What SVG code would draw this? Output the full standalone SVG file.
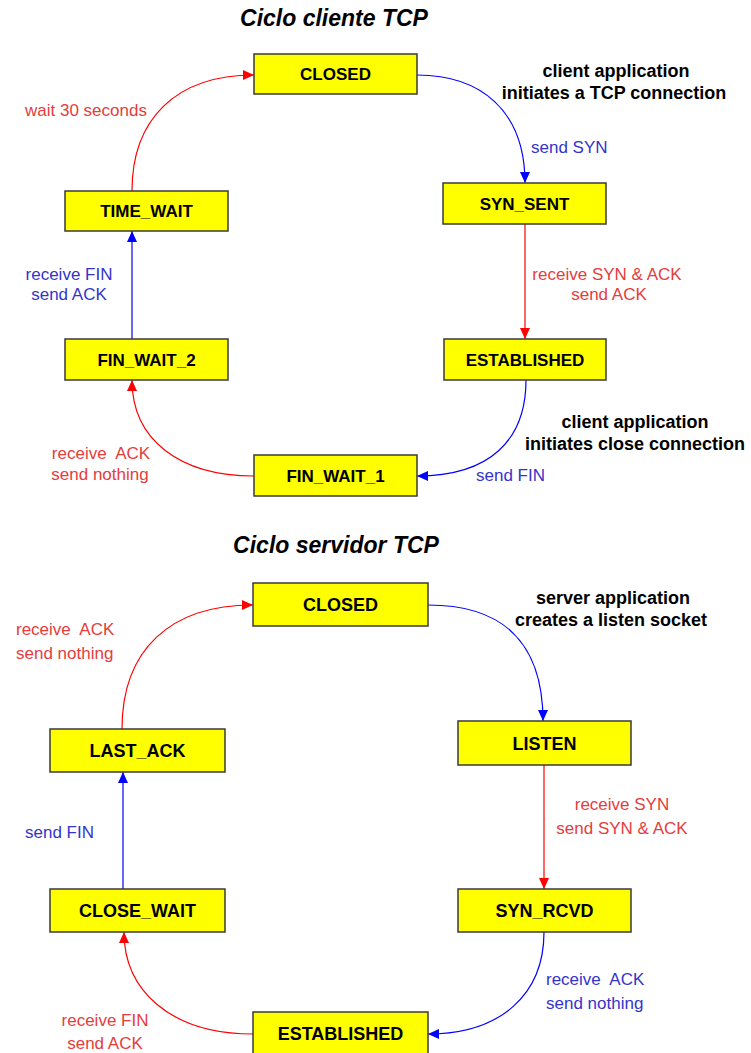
<svg xmlns="http://www.w3.org/2000/svg" width="751" height="1053" viewBox="0 0 751 1053">
<style>
.box{fill:#ffff00;stroke:#3a3a3a;stroke-width:1.5}
.nl{font-family:"Liberation Sans",Arial,sans-serif;font-weight:bold;fill:#000;text-anchor:middle}
.t1{font-size:17px}
.t2{font-size:18px}
.title{font-family:"Liberation Sans",Arial,sans-serif;font-weight:bold;font-style:italic;font-size:23px;text-anchor:middle;fill:#000}
.note{font-family:"Liberation Sans",Arial,sans-serif;font-weight:bold;font-size:18px;text-anchor:middle;fill:#000}
.lbl{font-family:"Liberation Sans",Arial,sans-serif;font-size:17px;white-space:pre}
.r{fill:#e63c3c}
.b{fill:#3434cc}
.m{text-anchor:middle}
.cr{fill:none;stroke:#ff0000;stroke-width:1.2}
.cb{fill:none;stroke:#0000ff;stroke-width:1.2}
</style>
<defs>
<marker id="ar" markerUnits="userSpaceOnUse" markerWidth="12" markerHeight="10" refX="11" refY="5" orient="auto"><path d="M0,0 L11,5 L0,10 z" fill="#ff0000"/></marker>
<marker id="ab" markerUnits="userSpaceOnUse" markerWidth="12" markerHeight="10" refX="11" refY="5" orient="auto"><path d="M0,0 L11,5 L0,10 z" fill="#0000ff"/></marker>
</defs>
<rect width="751" height="1053" fill="#ffffff"/>

<text class="title" x="334" y="26">Ciclo cliente TCP</text>
<text class="title" x="336" y="553">Ciclo servidor TCP</text>

<g id="connectors">
<path class="cr" d="M132,191 C132,120 175,75 254,75" marker-end="url(#ar)"/>
<path class="cb" d="M417,75 C480,75 525,110 525,183" marker-end="url(#ab)"/>
<path class="cb" d="M132,339 L132,231" marker-end="url(#ab)"/>
<path class="cr" d="M525,224 L525,339" marker-end="url(#ar)"/>
<path class="cb" d="M526,380 C526,440 490,476 417,476" marker-end="url(#ab)"/>
<path class="cr" d="M254,476 C180,476 132,440 132,380" marker-end="url(#ar)"/>

<path class="cr" d="M122,729 C122,650 170,605 253,605" marker-end="url(#ar)"/>
<path class="cb" d="M428,605 C500,605 543,640 543,721" marker-end="url(#ab)"/>
<path class="cb" d="M123,889 L123,772" marker-end="url(#ab)"/>
<path class="cr" d="M544,765 L544,889" marker-end="url(#ar)"/>
<path class="cb" d="M544,932 C544,995 500,1034 428,1034" marker-end="url(#ab)"/>
<path class="cr" d="M253,1034 C170,1034 124,990 124,932" marker-end="url(#ar)"/>
</g>

<g id="labels">
<text class="lbl r" x="25" y="116">wait 30 seconds</text>
<text class="lbl b" x="531" y="153">send SYN</text>
<text class="note" x="616" y="77">client application</text>
<text class="note" x="614" y="99">initiates a TCP connection</text>
<text class="lbl b m" x="69" y="280">receive FIN</text>
<text class="lbl b m" x="69" y="300">send ACK</text>
<text class="lbl r m" x="607" y="280">receive SYN &amp; ACK</text>
<text class="lbl r m" x="609" y="300">send ACK</text>
<text class="note" x="635" y="428">client application</text>
<text class="note" x="635" y="450">initiates close connection</text>
<text class="lbl b" x="476" y="481">send FIN</text>
<text class="lbl r m" x="101" y="459">receive  ACK</text>
<text class="lbl r m" x="100" y="480">send nothing</text>

<text class="note" x="613" y="604">server application</text>
<text class="note" x="611" y="626">creates a listen socket</text>
<text class="lbl r" x="16" y="635">receive  ACK</text>
<text class="lbl r" x="16" y="659">send nothing</text>
<text class="lbl b" x="25" y="838">send FIN</text>
<text class="lbl r m" x="622" y="810">receive SYN</text>
<text class="lbl r m" x="622" y="834">send SYN &amp; ACK</text>
<text class="lbl b" x="546" y="985">receive  ACK</text>
<text class="lbl b" x="546" y="1009">send nothing</text>
<text class="lbl r m" x="105" y="1026">receive FIN</text>
<text class="lbl r m" x="105" y="1049">send ACK</text>
</g>

<g id="c-closed"><rect class="box" x="254" y="54" width="163" height="40"/><text class="nl t1" x="335.5" y="80">CLOSED</text></g>
<g id="c-syn-sent"><rect class="box" x="443" y="183" width="163" height="41"/><text class="nl t1" x="524.5" y="209.5">SYN_SENT</text></g>
<g id="c-time-wait"><rect class="box" x="65" y="191" width="163" height="40"/><text class="nl t1" x="146.5" y="217">TIME_WAIT</text></g>
<g id="c-fin-wait-2"><rect class="box" x="65" y="339" width="163" height="41"/><text class="nl t1" x="146.5" y="365.5">FIN_WAIT_2</text></g>
<g id="c-established"><rect class="box" x="444" y="339" width="162" height="41"/><text class="nl t1" x="525" y="365.5">ESTABLISHED</text></g>
<g id="c-fin-wait-1"><rect class="box" x="254" y="455" width="163" height="41"/><text class="nl t1" x="335.5" y="481.5">FIN_WAIT_1</text></g>

<g id="s-closed"><rect class="box" x="253" y="583" width="175" height="43"/><text class="nl t2" x="340.5" y="611">CLOSED</text></g>
<g id="s-listen"><rect class="box" x="458" y="721" width="173" height="44"/><text class="nl t2" x="544.5" y="749.5">LISTEN</text></g>
<g id="s-last-ack"><rect class="box" x="50" y="729" width="175" height="43"/><text class="nl t2" x="137.5" y="757">LAST_ACK</text></g>
<g id="s-close-wait"><rect class="box" x="50" y="889" width="175" height="43"/><text class="nl t2" x="137.5" y="917">CLOSE_WAIT</text></g>
<g id="s-syn-rcvd"><rect class="box" x="458" y="889" width="173" height="43"/><text class="nl t2" x="544.5" y="917">SYN_RCVD</text></g>
<g id="s-established"><rect class="box" x="253" y="1012" width="175" height="44"/><text class="nl t2" x="340.5" y="1040">ESTABLISHED</text></g>
</svg>
